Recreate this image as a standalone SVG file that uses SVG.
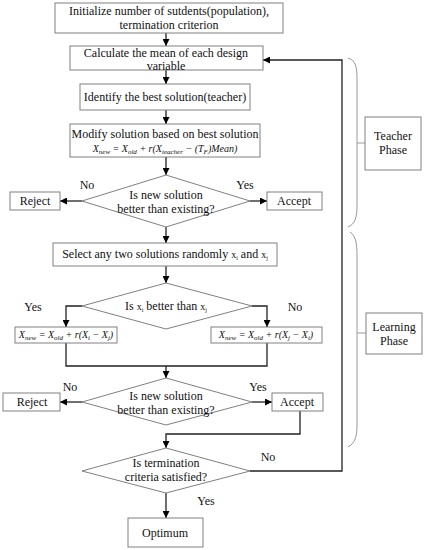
<svg xmlns="http://www.w3.org/2000/svg" width="425" height="550" viewBox="0 0 425 550">
<defs>
<marker id="ah" viewBox="0 0 10 10" refX="10" refY="5" markerWidth="7" markerHeight="7" orient="auto" markerUnits="userSpaceOnUse">
<path d="M0,0 L10,5 L0,10 z" fill="#000"/>
</marker>
<style>
.box{fill:#fff;stroke:#808080;stroke-width:1}
.t{font-family:"Liberation Serif","Times New Roman",serif;font-size:12px;fill:#111;text-anchor:middle}
.m{font-family:"Liberation Serif","Times New Roman",serif;font-style:italic;font-size:10px;fill:#111;text-anchor:middle}
.s{font-size:7px}
.c{fill:none;stroke:#222;stroke-width:1.3}
.a{fill:none;stroke:#222;stroke-width:1.3;marker-end:url(#ah)}
.br{fill:none;stroke:#999;stroke-width:1}
</style>
</defs>
<rect width="425" height="550" fill="#fff"/>

<g id="connectors">
<line class="a" x1="166" y1="33" x2="166" y2="46"/>
<line class="a" x1="166" y1="70" x2="166" y2="84"/>
<line class="a" x1="166" y1="110" x2="166" y2="124"/>
<line class="a" x1="166" y1="157" x2="166" y2="175"/>
<line class="a" x1="82" y1="201" x2="60" y2="201"/>
<line class="a" x1="250" y1="201" x2="267" y2="201"/>
<line class="a" x1="166" y1="227" x2="166" y2="243"/>
<line class="a" x1="166" y1="266" x2="166" y2="283"/>
<polyline class="a" points="82,306 66,306 66,327"/>
<polyline class="a" points="252,306 267,306 267,327"/>
<polyline class="c" points="66,343 66,366 267,366 267,343"/>
<line class="a" x1="166" y1="366" x2="166" y2="378"/>
<line class="a" x1="82" y1="402" x2="60" y2="402"/>
<line class="a" x1="252" y1="402" x2="272" y2="402"/>
<polyline class="a" points="300,411 300,434 166,434 166,448"/>
<polyline class="a" points="250,471 342,471 342,60 263,60"/>
<line class="a" x1="166" y1="493" x2="166" y2="518"/>
<text class="t" x="87" y="189">No</text>
<text class="t" x="245" y="189">Yes</text>
<text class="t" x="33" y="311">Yes</text>
<text class="t" x="295" y="311">No</text>
<text class="t" x="70" y="391">No</text>
<text class="t" x="258" y="391">Yes</text>
<text class="t" x="268" y="461">No</text>
<text class="t" x="206" y="505">Yes</text>
</g>

<g id="init">
<rect class="box" x="55" y="3" width="228" height="30"/>
<text class="t" x="169" y="15">Initialize number of sutdents(population),</text>
<text class="t" x="169" y="29">termination criterion</text>
</g>
<g id="mean">
<rect class="box" x="70" y="46" width="193" height="24"/>
<text class="t" x="166" y="57">Calculate the mean of each design</text>
<text class="t" x="166" y="70">variable</text>
</g>
<g id="teacher">
<rect class="box" x="80" y="84" width="170" height="26"/>
<text class="t" x="165" y="101">Identify the best solution(teacher)</text>
</g>
<g id="modify">
<rect class="box" x="70" y="124" width="190" height="33"/>
<text class="t" x="165" y="138">Modify solution based on best solution</text>
<text class="m" x="165" y="152">X<tspan class="s" dy="2">new</tspan><tspan dy="-2"> = X</tspan><tspan class="s" dy="2">old</tspan><tspan dy="-2"> + r(X</tspan><tspan class="s" dy="2">teacher</tspan><tspan dy="-2"> − (T</tspan><tspan class="s" dy="2">F</tspan><tspan dy="-2">)Mean)</tspan></text>
</g>
<g id="dec1">
<polygon class="box" points="166,175 250,201 166,227 82,201"/>
<text class="t" x="166" y="199">Is new solution</text>
<text class="t" x="166" y="213">better than existing?</text>
</g>
<g id="reject1">
<rect class="box" x="10" y="192" width="50" height="18"/>
<text class="t" x="35" y="205">Reject</text>
</g>
<g id="accept1">
<rect class="box" x="267" y="192" width="55" height="18"/>
<text class="t" x="294" y="205">Accept</text>
</g>
<g id="select">
<rect class="box" x="53" y="243" width="224" height="23"/>
<text class="t" x="165" y="258">Select any two solutions randomly <tspan font-size="10">x</tspan><tspan font-size="6" dy="2">i</tspan><tspan dy="-2"> and </tspan><tspan font-size="10">x</tspan><tspan font-size="6" dy="2">j</tspan></text>
</g>
<g id="dec2">
<polygon class="box" points="166,283 252,306 166,329 82,306"/>
<text class="t" x="166" y="310">Is  <tspan font-size="10">x</tspan><tspan font-size="6" dy="2">i</tspan><tspan dy="-2">  better than </tspan><tspan font-size="10">x</tspan><tspan font-size="6" dy="2">j</tspan></text>
</g>
<g id="updL">
<rect class="box" x="15" y="327" width="102" height="16"/>
<text class="m" x="66" y="338">X<tspan class="s" dy="2">new</tspan><tspan dy="-2"> = X</tspan><tspan class="s" dy="2">old</tspan><tspan dy="-2"> + r(X</tspan><tspan class="s" dy="2">i</tspan><tspan dy="-2"> − X</tspan><tspan class="s" dy="2">j</tspan><tspan dy="-2">)</tspan></text>
</g>
<g id="updR">
<rect class="box" x="211" y="327" width="111" height="16"/>
<text class="m" x="266" y="338">X<tspan class="s" dy="2">new</tspan><tspan dy="-2"> = X</tspan><tspan class="s" dy="2">old</tspan><tspan dy="-2"> + r(X</tspan><tspan class="s" dy="2">j</tspan><tspan dy="-2"> − X</tspan><tspan class="s" dy="2">i</tspan><tspan dy="-2">)</tspan></text>
</g>
<g id="dec3">
<polygon class="box" points="166,378 252,402 166,425 82,402"/>
<text class="t" x="166" y="400">Is new solution</text>
<text class="t" x="166" y="414">better than existing?</text>
</g>
<g id="reject2">
<rect class="box" x="3" y="393" width="57" height="18"/>
<text class="t" x="32" y="406">Reject</text>
</g>
<g id="accept2">
<rect class="box" x="272" y="393" width="51" height="18"/>
<text class="t" x="297" y="406">Accept</text>
</g>
<g id="dec4">
<polygon class="box" points="166,448 250,471 166,493 82,471"/>
<text class="t" x="166" y="467">Is termination</text>
<text class="t" x="166" y="481">criteria satisfied?</text>
</g>
<g id="optimum">
<rect class="box" x="128" y="518" width="75" height="29"/>
<text class="t" x="165" y="537">Optimum</text>
</g>

<g id="teacherPhase">
<path class="br" d="M348,58 C355,60 357,66 357,78 L357,205 C357,218 355,224 348,227"/>
<line class="br" x1="357" y1="143" x2="365" y2="143"/>
<rect class="box" x="365" y="117" width="56" height="53"/>
<text class="t" x="393" y="140">Teacher</text>
<text class="t" x="393" y="154">Phase</text>
</g>
<g id="learningPhase">
<path class="br" d="M350,232 C356,236 357,244 357,256 L357,425 C357,437 355,443 348,447"/>
<line class="br" x1="357" y1="333" x2="366" y2="333"/>
<rect class="box" x="366" y="313" width="56" height="41"/>
<text class="t" x="394" y="331">Learning</text>
<text class="t" x="394" y="345">Phase</text>
</g>
</svg>
